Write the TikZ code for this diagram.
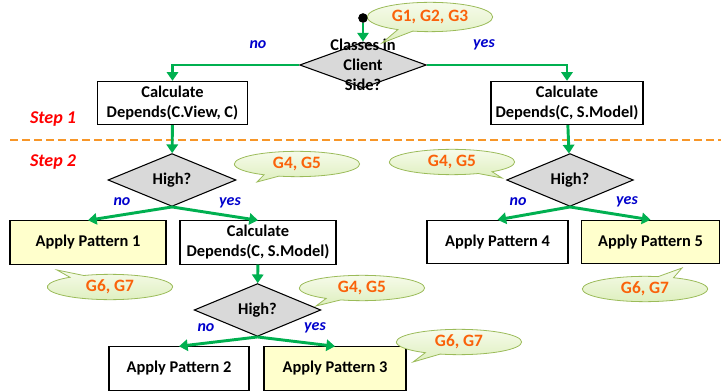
\documentclass[tikz,border=0pt]{standalone}
\usepackage{fontspec}
\setmainfont{Carlito}
\usetikzlibrary{arrows.meta,shapes.geometric,shapes.callouts}

\definecolor{flowgreen}{RGB}{0,176,80}
\definecolor{decgray}{RGB}{217,217,217}
\definecolor{applyyellow}{RGB}{255,255,204}
\definecolor{notetop}{RGB}{246,251,234}
\definecolor{notebottom}{RGB}{222,239,190}
\definecolor{noteline}{RGB}{155,187,89}
\definecolor{notetext}{RGB}{250,98,10}
\definecolor{stepred}{RGB}{255,0,0}
\definecolor{ansblue}{RGB}{0,0,204}
\definecolor{sepline}{RGB}{247,150,40}

\tikzset{
  calcbox/.style={draw, line width=0.8pt, fill=white, align=center, inner sep=0pt,
    minimum height=32.5pt, font=\bfseries\fontsize{12.3}{15}\selectfont},
  applybox/.style={calcbox, fill=applyyellow},
  decision/.style={diamond, draw, line width=0.8pt, fill=decgray, inner sep=0pt,
    minimum width=96pt, minimum height=34.5pt, font=\bfseries\fontsize{12.3}{15}\selectfont},
  dectext/.style={align=center, inner sep=0pt, font=\bfseries\fontsize{12.3}{15}\selectfont},
  flow/.style={draw=flowgreen, line width=2.2pt, -{Triangle[length=6.5pt,width=8.5pt]}},
  note/.style={ellipse callout, draw=noteline, line width=0.6pt, top color=notetop,
    bottom color=notebottom, text=notetext, inner sep=0pt, minimum width=94pt,
    minimum height=19pt, font=\bfseries\fontsize{13}{15}\selectfont},
  answer/.style={text=ansblue, inner sep=0pt, font=\bfseries\itshape\fontsize{12}{14}\selectfont},
  steplabel/.style={text=stepred, inner sep=0pt, font=\bfseries\itshape\fontsize{13.5}{16}\selectfont},
  startdot/.style={circle, fill=black, inner sep=0pt, minimum size=7pt}
}

\begin{document}
\begin{tikzpicture}[x=0.75pt, y=-0.75pt]
  \useasboundingbox (0,0) rectangle (721,392);

  %%%%% step separator %%%%%
  \draw[sepline, line width=1.5pt, dash pattern=on 6pt off 3pt] (10,140) -- (721,140);
  \node[steplabel] (step1) at (53,119) {Step 1};
  \node[steplabel] (step2) at (53,162) {Step 2};

  %%%%% step 1 %%%%%
  \node[startdot] (start) at (363,18) {};
  \node[decision, minimum width=95pt] (q0) at (363,65) {};
  \node[dectext] (q0txt) at (363,65) {Classes in\\Client\\Side?};
  \node[calcbox, minimum width=113pt] (calc1) at (172.5,103) {Calculate\\Depends(C.View, C)};
  \node[calcbox, minimum width=114pt] (calc2) at (567,103) {Calculate\\Depends(C, S.Model)};

  %%%%% step 2, left branch %%%%%
  \node[decision] (q1) at (172,180) {High?};
  \node[applybox, minimum width=117pt] (p1) at (88,242.5) {Apply Pattern 1};
  \node[calcbox, minimum width=117pt] (calc3) at (258,242.5) {Calculate\\Depends(C, S.Model)};
  \node[decision, minimum width=95pt] (q3) at (257.5,310) {High?};
  \node[calcbox, minimum width=105pt] (p2) at (179,368.5) {Apply Pattern 2};
  \node[applybox, minimum width=106.5pt] (p3) at (335,368.5) {Apply Pattern 3};

  %%%%% step 2, right branch %%%%%
  \node[decision, minimum width=95pt] (q2) at (570,180) {High?};
  \node[calcbox, minimum width=105.75pt] (p4) at (497.5,242) {Apply Pattern 4};
  \node[applybox, minimum width=103pt] (p5) at (650.5,242) {Apply Pattern 5};

  %%%%% connectors %%%%%
  \draw[flow] (start) -- (q0.north);
  \draw[flow] (q0.west) -| (calc1.north);
  \draw[flow] (q0.east) -| (calc2.north);
  \draw[flow] (calc1) -- (q1);
  \draw[flow] (calc2) -- (q2);
  \draw[flow] (q1.south) -- (p1.north);
  \draw[flow] (q1.south) -- (calc3.north);
  \draw[flow] (calc3) -- (q3);
  \draw[flow] (q3.south) -- (p2.north);
  \draw[flow] (q3.south) -- (p3.north);
  \draw[flow] (q2.south) -- (p4.north);
  \draw[flow] (q2.south) -- (p5.north);

  \node[answer] (no0) at (258,45) {no};
  \node[answer] (yes0) at (484,45) {yes};
  \node[answer] (no1) at (122,202) {no};
  \node[answer] (yes1) at (230,203) {yes};
  \node[answer] (no2) at (518,202) {no};
  \node[answer] (yes2) at (627,202) {yes};
  \node[answer] (no3) at (206,328) {no};
  \node[answer] (yes3) at (315,328) {yes};

  %%%%% guideline notes %%%%%
  \node[note, minimum height=22pt, callout absolute pointer={(382,43)}] (g123) at (430,17) {G1, G2, G3};
  \node[note, callout absolute pointer={(257,182)}] (g45a) at (297,164) {G4, G5};
  \node[note, callout absolute pointer={(502,178)}] (g45b) at (452,162) {G4, G5};
  \node[note, callout absolute pointer={(316,306)}] (g45c) at (362,288) {G4, G5};
  \node[note, callout absolute pointer={(57,270)}] (g67a) at (110,287) {G6, G7};
  \node[note, callout absolute pointer={(413,362)}] (g67b) at (459,342) {G6, G7};
  \node[note, callout absolute pointer={(682,268)}] (g67c) at (645,289) {G6, G7};
  \node[startdot] (startdot) at (start) {};
\end{tikzpicture}
\end{document}
